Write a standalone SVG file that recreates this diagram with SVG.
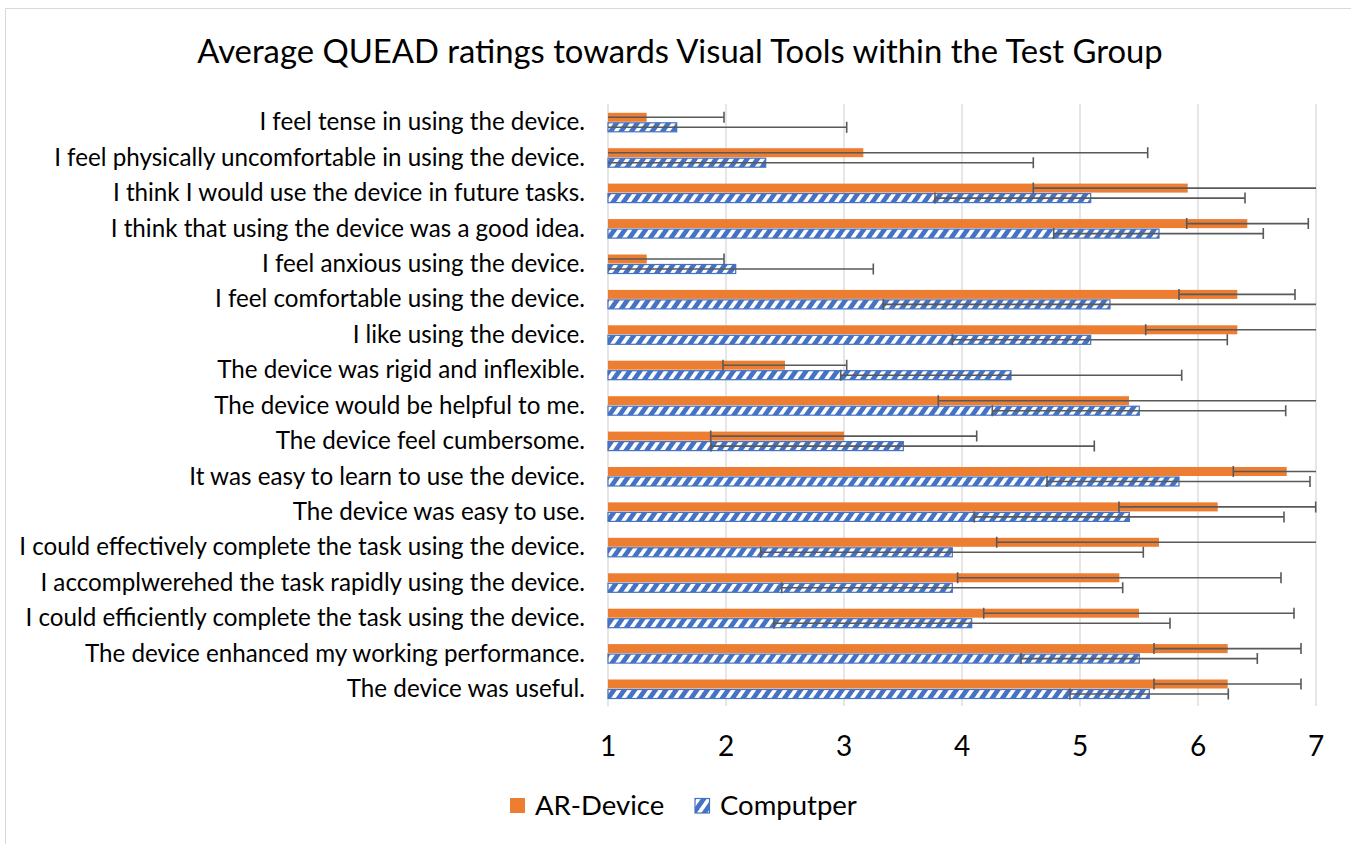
<svg xmlns="http://www.w3.org/2000/svg" width="1351" height="844" viewBox="0 0 1351 844">
<defs>
<pattern id="hatch" patternUnits="userSpaceOnUse" width="8.5" height="8.5" patternTransform="rotate(35)">
<rect x="0" y="0" width="8.5" height="8.5" fill="#4472C4"/>
<rect x="0" y="0" width="3.8" height="8.5" fill="#FFFFFF"/>
</pattern>
</defs>
<style>
.lbl{font-family:Lato,"Liberation Sans",sans-serif;font-size:24.2px;fill:#000;text-anchor:end}
.title{font-family:Lato,"Liberation Sans",sans-serif;font-size:32.8px;fill:#000;text-anchor:middle}
.tick{font-family:Lato,"Liberation Sans",sans-serif;font-size:28px;fill:#000;text-anchor:middle}
.leg{font-family:Lato,"Liberation Sans",sans-serif;font-size:27.5px;fill:#000}
.grid{stroke:#D9D9D9;stroke-width:1.3;fill:none}
.ar{fill:#ED7D31}
.pc{fill:url(#hatch);stroke:#4472C4;stroke-width:1.2}
.err{stroke:#595959;stroke-width:1.6;fill:none}
</style>
<rect x="0" y="0" width="1351" height="844" fill="#FFFFFF"/>
<path d="M5.5,860 V8.5 H1360" fill="none" stroke="#D9D9D9" stroke-width="1"/>
<text class="title" x="680" y="63">Average QUEAD ratings towards Visual Tools within the Test Group</text>
<g id="gridlines">
<path class="grid" d="M608,104V706 M726,104V706 M844,104V706 M962,104V706 M1080,104V706 M1198,104V706 M1316,104V706"/>
</g>
<g id="axis-labels">
<text class="tick" x="608" y="756">1</text>
<text class="tick" x="726" y="756">2</text>
<text class="tick" x="844" y="756">3</text>
<text class="tick" x="962" y="756">4</text>
<text class="tick" x="1080" y="756">5</text>
<text class="tick" x="1198" y="756">6</text>
<text class="tick" x="1316" y="756">7</text>
</g>
<g id="row0">
<text class="lbl" x="585" y="130.3">I feel tense in using the device.</text>
<rect class="ar" x="608" y="112.8" width="38.7" height="9"/>
<rect class="pc" x="608" y="122.8" width="68.7" height="9"/>
</g>
<g id="row1">
<text class="lbl" x="585" y="165.7">I feel physically uncomfortable in using the device.</text>
<rect class="ar" x="608" y="148.2" width="255.3" height="9"/>
<rect class="pc" x="608" y="158.2" width="157.7" height="9"/>
</g>
<g id="row2">
<text class="lbl" x="585" y="201.1">I think I would use the device in future tasks.</text>
<rect class="ar" x="608" y="183.6" width="579.7" height="9"/>
<rect class="pc" x="608" y="193.6" width="482.7" height="9"/>
</g>
<g id="row3">
<text class="lbl" x="585" y="236.6">I think that using the device was a good idea.</text>
<rect class="ar" x="608" y="219.1" width="639.3" height="9"/>
<rect class="pc" x="608" y="229.1" width="551" height="9"/>
</g>
<g id="row4">
<text class="lbl" x="585" y="272">I feel anxious using the device.</text>
<rect class="ar" x="608" y="254.5" width="38.7" height="9"/>
<rect class="pc" x="608" y="264.5" width="127.7" height="9"/>
</g>
<g id="row5">
<text class="lbl" x="585" y="307.4">I feel comfortable using the device.</text>
<rect class="ar" x="608" y="289.9" width="629.3" height="9"/>
<rect class="pc" x="608" y="299.9" width="502" height="9"/>
</g>
<g id="row6">
<text class="lbl" x="585" y="342.8">I like using the device.</text>
<rect class="ar" x="608" y="325.3" width="629.3" height="9"/>
<rect class="pc" x="608" y="335.3" width="482.7" height="9"/>
</g>
<g id="row7">
<text class="lbl" x="585" y="378.2">The device was rigid and inflexible.</text>
<rect class="ar" x="608" y="360.7" width="177" height="9"/>
<rect class="pc" x="608" y="370.7" width="403" height="9"/>
</g>
<g id="row8">
<text class="lbl" x="585" y="413.7">The device would be helpful to me.</text>
<rect class="ar" x="608" y="396.2" width="521" height="9"/>
<rect class="pc" x="608" y="406.2" width="531.3" height="9"/>
</g>
<g id="row9">
<text class="lbl" x="585" y="449.1">The device feel cumbersome.</text>
<rect class="ar" x="608" y="431.6" width="236" height="9"/>
<rect class="pc" x="608" y="441.6" width="295.3" height="9"/>
</g>
<g id="row10">
<text class="lbl" x="585" y="484.5">It was easy to learn to use the device.</text>
<rect class="ar" x="608" y="467" width="678.7" height="9"/>
<rect class="pc" x="608" y="477" width="571" height="9"/>
</g>
<g id="row11">
<text class="lbl" x="585" y="519.9">The device was easy to use.</text>
<rect class="ar" x="608" y="502.4" width="609.7" height="9"/>
<rect class="pc" x="608" y="512.4" width="521.3" height="9"/>
</g>
<g id="row12">
<text class="lbl" x="585" y="555.3">I could effectively complete the task using the device.</text>
<rect class="ar" x="608" y="537.8" width="551" height="9"/>
<rect class="pc" x="608" y="547.8" width="344.3" height="9"/>
</g>
<g id="row13">
<text class="lbl" x="585" y="590.8">I accomplwerehed the task rapidly using the device.</text>
<rect class="ar" x="608" y="573.3" width="511.3" height="9"/>
<rect class="pc" x="608" y="583.3" width="344.3" height="9"/>
</g>
<g id="row14">
<text class="lbl" x="585" y="626.2">I could efficiently complete the task using the device.</text>
<rect class="ar" x="608" y="608.7" width="531" height="9"/>
<rect class="pc" x="608" y="618.7" width="363.7" height="9"/>
</g>
<g id="row15">
<text class="lbl" x="585" y="661.6">The device enhanced my working performance.</text>
<rect class="ar" x="608" y="644.1" width="619.7" height="9"/>
<rect class="pc" x="608" y="654.1" width="531.3" height="9"/>
</g>
<g id="row16">
<text class="lbl" x="585" y="697">The device was useful.</text>
<rect class="ar" x="608" y="679.5" width="619.7" height="9"/>
<rect class="pc" x="608" y="689.5" width="541.3" height="9"/>
</g>
<g id="error-bars">
<path class="err" d="
M608,117.3H724 M724,111.8v11
M608,127.3H846.7 M846.7,121.8v11
M608,152.7H1147.7 M1147.7,147.2v11
M608,162.7H1033.3 M1033.3,157.2v11
M1033.3,188.1H1316 M1033.3,182.6v11
M935,198.1H1245 M935,192.6v11 M1245,192.6v11
M1186.7,223.6H1308.3 M1186.7,218.1v11 M1308.3,218.1v11
M1053.7,233.6H1263.3 M1053.7,228.1v11 M1263.3,228.1v11
M608,259H724 M724,253.5v11
M608,269H873.3 M873.3,263.5v11
M1179,294.4H1295 M1179,288.9v11 M1295,288.9v11
M883.3,304.4H1316 M883.3,298.9v11
M1145.7,329.8H1316 M1145.7,324.3v11
M952.3,339.8H1227.3 M952.3,334.3v11 M1227.3,334.3v11
M723,365.2H846.7 M723,359.7v11 M846.7,359.7v11
M840.7,375.2H1181.7 M840.7,369.7v11 M1181.7,369.7v11
M938.3,400.7H1316 M938.3,395.2v11
M992.3,410.7H1285.7 M992.3,405.2v11 M1285.7,405.2v11
M710.7,436.1H976.7 M710.7,430.6v11 M976.7,430.6v11
M711,446.1H1094.3 M711,440.6v11 M1094.3,440.6v11
M1233.3,471.5H1316 M1233.3,466v11
M1047,481.5H1310 M1047,476v11 M1310,476v11
M1119,506.9H1315.7 M1119,501.4v11 M1315.7,501.4v11
M974.3,516.9H1284 M974.3,511.4v11 M1284,511.4v11
M996.7,542.3H1316 M996.7,536.8v11
M760.7,552.3H1143.3 M760.7,546.8v11 M1143.3,546.8v11
M957.6,577.8H1281 M957.6,572.3v11 M1281,572.3v11
M781.7,587.8H1122.7 M781.7,582.3v11 M1122.7,582.3v11
M983.7,613.2H1294 M983.7,607.7v11 M1294,607.7v11
M774,623.2H1170 M774,617.7v11 M1170,617.7v11
M1154,648.6H1301 M1154,643.1v11 M1301,643.1v11
M1021,658.6H1257.3 M1021,653.1v11 M1257.3,653.1v11
M1154,684H1301 M1154,678.5v11 M1301,678.5v11
M1070,694H1228.3 M1070,688.5v11 M1228.3,688.5v11"/>
</g>
<g id="legend">
<rect class="ar" x="510" y="798" width="15" height="15"/>
<text class="leg" x="535" y="815">AR-Device</text>
<rect x="695" y="798.5" width="14.5" height="14.5" fill="url(#hatch)" stroke="#4472C4" stroke-width="1.2"/>
<text class="leg" x="720" y="815">Computper</text>
</g>
</svg>
